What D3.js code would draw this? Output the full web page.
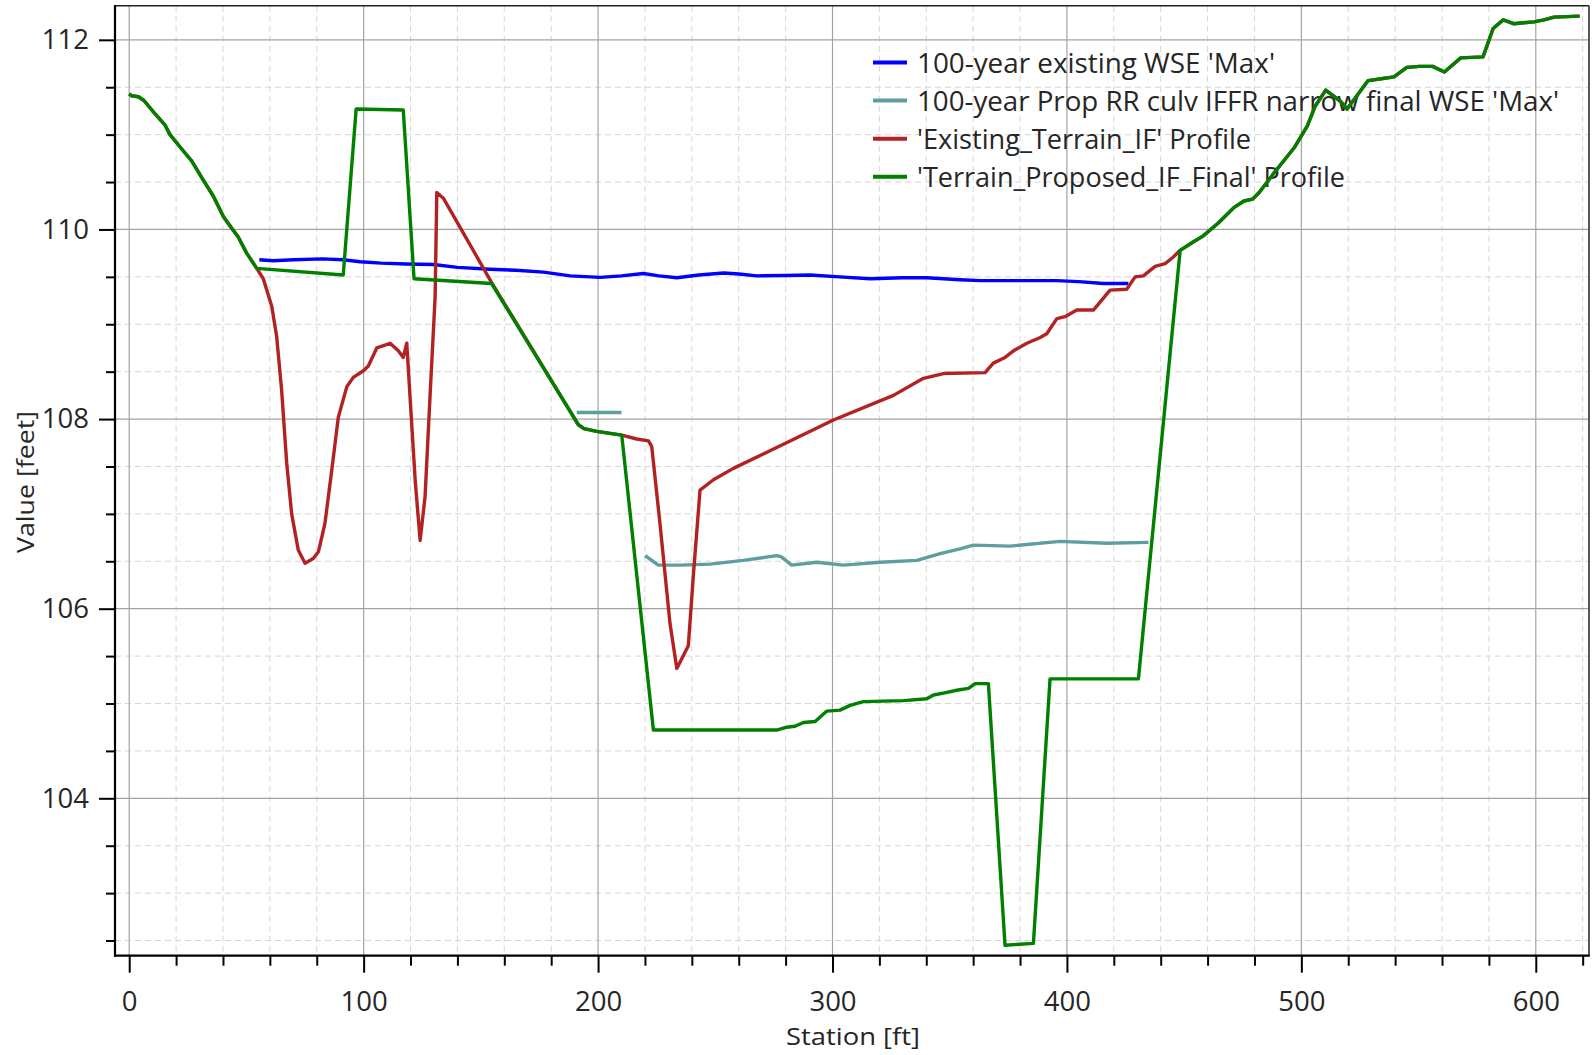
<!DOCTYPE html>
<html>
<head>
<meta charset="utf-8">
<script src="https://cdn.jsdelivr.net/npm/d3@7"></script>
<style>
  html, body { margin: 0; padding: 0; background: #ffffff; }
  svg { display: block; }
  text { font-family: "Open Sans", "Noto Sans", sans-serif; fill: #262626; }
</style>
</head>
<body>
<svg id="chart" width="1592" height="1055"></svg>
<script>
// ---------------- DATA ----------------
const seriesNames = [
  "100-year existing WSE 'Max'",
  "100-year Prop RR culv IFFR narrow final WSE 'Max'",
  "'Existing_Terrain_IF' Profile",
  "'Terrain_Proposed_IF_Final' Profile"
];
const seriesColors = ["#0000ff", "#5f9ea0", "#b22222", "#008000"];

const xMajorTicks = [0, 100, 200, 300, 400, 500, 600];
const xMinorTicks = [20, 40, 60, 80, 120, 140, 160, 180, 220, 240, 260, 280, 320, 340, 360, 380, 420, 440, 460, 480, 520, 540, 560, 580, 620];
const yMajorTicks = [104, 106, 108, 110, 112];
const yMinorTicks = [102.5, 103, 103.5, 104.5, 105, 105.5, 106.5, 107, 107.5, 108.5, 109, 109.5, 110.5, 111, 111.5];

// 100-year existing WSE 'Max'
const existWseStation = [55.5, 61.5, 70, 82.4, 91.3, 98.5, 107.5, 118, 129.8, 140, 153.9, 165, 176.7, 188.1, 200.9, 210, 219.3, 226, 233.6, 243, 253.5, 260, 267.7, 280, 290.4, 303, 316.1, 330, 340.2, 354.4, 363, 380, 395.7, 405, 415.6, 426.2];
const existWseValue   = [109.68, 109.67, 109.68, 109.69, 109.68, 109.66, 109.645, 109.635, 109.63, 109.6, 109.58, 109.57, 109.55, 109.51, 109.495, 109.51, 109.535, 109.51, 109.49, 109.52, 109.54, 109.53, 109.51, 109.515, 109.52, 109.5, 109.48, 109.49, 109.49, 109.47, 109.46, 109.46, 109.46, 109.45, 109.43, 109.43];

// 100-year Prop RR culv IFFR narrow final WSE 'Max' (null = gap)
const propWseStation = [190.9, 210, null, 220.1, 225.7, 235, 247.8, 262, 276.2, 278, 282.6, 293.3, 304.6, 320.3, 336, 345.9, 354.4, 360.1, 375.8, 397.1, 417, 434.8];
const propWseValue   = [108.07, 108.07, null, 106.56, 106.46, 106.46, 106.47, 106.51, 106.56, 106.55, 106.46, 106.49, 106.46, 106.49, 106.51, 106.58, 106.63, 106.67, 106.66, 106.71, 106.69, 106.70];

// 'Existing_Terrain_IF' Profile
const existTerrStation = [0, 1, 3.9, 6.3, 10.3, 15.3, 17.4, 21.7, 26.7, 31.6, 35.9, 40.1, 43.5, 46.5, 50.1, 54.4,
  57.2, 60.8, 62.9, 65, 67.2, 69.3, 72.1, 75, 78.5, 80.7, 83.5, 86.4, 89.2, 92.8, 95.6, 99.9, 102, 105.6, 109.1, 111.3, 114.8, 116.9, 118.4, 119.8, 122, 124.1, 126.2, 128.3, 130.5, 131.2, 134, 154.6,
  191.6, 194, 199.4, 210.1, 216.5, 221.5, 222.9, 226.4, 230.7, 233.6, 238.5, 240.7, 243.5, 249.2, 257.7, 300.4, 326, 338.8, 347.3, 365.1, 368.6, 373.6, 377.2, 382.9, 388.6, 391.4, 395.7, 399.2, 404.2, 411.3, 418.4, 425.5, 429.1, 432.6, 437.6, 441.9, 445.4, 448.3,
  454, 458, 464.7, 471.2, 475.5, 479.2, 482, 488.5, 497.2, 502.5, 505.9, 510.4, 516.7, 519.5, 528.5, 534.1, 539.5, 545, 550.5, 556, 561, 568, 577.5, 581.8, 586.1, 590.5, 599.2, 603.5, 607.8, 618.7];
const existTerrValue = [111.43, 111.41, 111.40, 111.36, 111.24, 111.10, 111.0, 110.87, 110.72, 110.52, 110.35, 110.14, 110.02, 109.92, 109.75, 109.59,
  109.48, 109.19, 108.87, 108.31, 107.53, 107.0, 106.62, 106.48, 106.53, 106.6, 106.9, 107.46, 108.02, 108.34, 108.44, 108.51, 108.56, 108.75, 108.78, 108.8, 108.72, 108.65, 108.8, 108.23, 107.35, 106.72, 107.18, 108.23, 109.29, 110.39, 110.33, 109.44,
  107.94, 107.9, 107.87, 107.83, 107.79, 107.77, 107.71, 106.9, 105.84, 105.37, 105.61, 106.37, 107.25, 107.36, 107.48, 107.99, 108.25, 108.43, 108.48, 108.49, 108.59, 108.65, 108.72, 108.8, 108.86, 108.9, 109.06, 109.08, 109.15, 109.15, 109.36, 109.37, 109.5, 109.51, 109.61, 109.64, 109.71, 109.78,
  109.87, 109.93, 110.07, 110.23, 110.3, 110.32, 110.39, 110.6, 110.87, 111.09, 111.3, 111.47, 111.35, 111.27, 111.57, 111.59, 111.61, 111.71, 111.72, 111.72, 111.66, 111.81, 111.82, 112.12, 112.21, 112.17, 112.19, 112.21, 112.24, 112.25];

// 'Terrain_Proposed_IF_Final' Profile
const propTerrStation = [0, 1, 3.9, 6.3, 10.3, 15.3, 17.4, 21.7, 26.7, 31.6, 35.9, 40.1, 43.5, 46.5, 50.1, 54.4,
  91.3, 96.8, 116.9, 121.5, 154.6, 191.6, 194, 199.4, 210.1, 223.6, 276.2, 280.5, 284, 287.6, 292.6, 297.6, 303.2, 307.5, 313.2, 330.3, 340.2, 343.1, 347.3, 353, 358, 360.8, 366.5, 373.6, 385.7, 392.8, 430.5, 448.3,
  454, 458, 464.7, 471.2, 475.5, 479.2, 482, 488.5, 497.2, 502.5, 505.9, 510.4, 516.7, 519.5, 528.5, 534.1, 539.5, 545, 550.5, 556, 561, 568, 577.5, 581.8, 586.1, 590.5, 599.2, 603.5, 607.8, 618.7];
const propTerrValue = [111.43, 111.41, 111.40, 111.36, 111.24, 111.10, 111.0, 110.87, 110.72, 110.52, 110.35, 110.14, 110.02, 109.92, 109.75, 109.59,
  109.52, 111.27, 111.26, 109.48, 109.43, 107.94, 107.9, 107.87, 107.83, 104.72, 104.72, 104.75, 104.76, 104.8, 104.81, 104.92, 104.93, 104.98, 105.02, 105.03, 105.05, 105.09, 105.11, 105.14, 105.16, 105.21, 105.21, 102.45, 102.47, 105.26, 105.26, 109.78,
  109.87, 109.93, 110.07, 110.23, 110.3, 110.32, 110.39, 110.6, 110.87, 111.09, 111.3, 111.47, 111.35, 111.27, 111.57, 111.59, 111.61, 111.71, 111.72, 111.72, 111.66, 111.81, 111.82, 112.12, 112.21, 112.17, 112.19, 112.21, 112.24, 112.25];

// ---------------- LAYOUT ----------------
const plotLeft = 115, plotRight = 1589, plotTop = 5.7, plotBottom = 955.7;
const svg = d3.select("#chart");

const x = d3.scaleLinear().domain([-6.06, 622.7]).range([plotLeft, plotRight]);
const y = d3.scaleLinear().domain([102.34, 112.36]).range([plotBottom, plotTop]);

svg.append("rect").attr("x", 0).attr("y", 0).attr("width", 1592).attr("height", 1055).attr("fill", "#fff");

// clip
svg.append("defs").append("clipPath").attr("id", "clip")
  .append("rect").attr("x", plotLeft).attr("y", plotTop)
  .attr("width", plotRight - plotLeft).attr("height", plotBottom - plotTop);

// minor gridlines
const grid = svg.append("g");
grid.selectAll(".vmin").data(xMinorTicks).join("line")
  .attr("x1", d => x(d)).attr("x2", d => x(d))
  .attr("y1", plotTop).attr("y2", plotBottom)
  .attr("stroke", "#d6d6d6").attr("stroke-width", 1).attr("stroke-dasharray", "6,4");
grid.selectAll(".hmin").data(yMinorTicks).join("line")
  .attr("x1", plotLeft).attr("x2", plotRight)
  .attr("y1", d => y(d)).attr("y2", d => y(d))
  .attr("stroke", "#d6d6d6").attr("stroke-width", 1).attr("stroke-dasharray", "6,4");
// major gridlines
grid.selectAll(".vmaj").data(xMajorTicks).join("line")
  .attr("x1", d => x(d)).attr("x2", d => x(d))
  .attr("y1", plotTop).attr("y2", plotBottom)
  .attr("stroke", "#a3a3a3").attr("stroke-width", 1.2);
grid.selectAll(".hmaj").data(yMajorTicks).join("line")
  .attr("x1", plotLeft).attr("x2", plotRight)
  .attr("y1", d => y(d)).attr("y2", d => y(d))
  .attr("stroke", "#a3a3a3").attr("stroke-width", 1.2);

// axes
function styleAxis(g) {
  g.select(".domain").remove();
  g.selectAll(".tick line").attr("stroke", "#000").attr("stroke-width", 2);
  g.selectAll(".tick text").attr("font-family", "'Open Sans', sans-serif")
    .attr("font-size", 27.5).attr("fill", "#333");
}
svg.append("g").attr("transform", `translate(0,${plotBottom})`)
  .call(d3.axisBottom(x).tickValues(xMinorTicks).tickSize(10).tickFormat(""))
  .call(styleAxis);
svg.append("g").attr("transform", `translate(0,${plotBottom})`)
  .call(d3.axisBottom(x).tickValues(xMajorTicks).tickSize(17).tickPadding(19).tickFormat(d3.format("d")))
  .call(styleAxis);
svg.append("g").attr("transform", `translate(${plotLeft},0)`)
  .call(d3.axisLeft(y).tickValues(yMinorTicks).tickSize(9).tickFormat(""))
  .call(styleAxis);
svg.append("g").attr("transform", `translate(${plotLeft},0)`)
  .call(d3.axisLeft(y).tickValues(yMajorTicks).tickSize(16).tickPadding(10).tickFormat(d3.format("d")))
  .call(styleAxis);

// frame
svg.append("line").attr("x1", plotLeft).attr("x2", plotRight).attr("y1", plotTop).attr("y2", plotTop)
  .attr("stroke", "#222").attr("stroke-width", 1.5);
svg.append("line").attr("x1", plotRight).attr("x2", plotRight).attr("y1", plotTop).attr("y2", plotBottom)
  .attr("stroke", "#222").attr("stroke-width", 1.5);
svg.append("line").attr("x1", plotLeft).attr("x2", plotLeft).attr("y1", plotTop - 0.75).attr("y2", plotBottom + 1)
  .attr("stroke", "#000").attr("stroke-width", 2.2);
svg.append("line").attr("x1", plotLeft - 1).attr("x2", plotRight + 0.75).attr("y1", plotBottom).attr("y2", plotBottom)
  .attr("stroke", "#000").attr("stroke-width", 2.2);

// axis titles
svg.append("text").attr("x", 853).attr("y", 1045).attr("text-anchor", "middle")
  .attr("font-size", 24).attr("fill", "#333")
  .attr("textLength", 134).attr("lengthAdjust", "spacingAndGlyphs")
  .text("Station [ft]");
svg.append("text").attr("transform", "translate(34,482) rotate(-90)").attr("text-anchor", "middle")
  .attr("font-size", 24).attr("fill", "#333")
  .attr("textLength", 142).attr("lengthAdjust", "spacingAndGlyphs")
  .text("Value [feet]");

// legend (drawn beneath the lines)
const legendWidths = [358, 642, 334, 428];
const legend = svg.append("g");
seriesNames.forEach((name, i) => {
  const ly = 62.5 + i * 38.1;
  legend.append("line").attr("x1", 873).attr("x2", 907).attr("y1", ly).attr("y2", ly)
    .attr("stroke", seriesColors[i]).attr("stroke-width", 4);
  legend.append("text").attr("x", 917).attr("y", ly + 10)
    .attr("font-size", 27).attr("fill", "#262626")
    .attr("textLength", legendWidths[i]).attr("lengthAdjust", "spacingAndGlyphs")
    .text(name);
});

// lines
const lineGen = d3.line()
  .defined(d => d[0] !== null && d[1] !== null)
  .x(d => x(d[0])).y(d => y(d[1]));
const seriesData = [
  d3.zip(existWseStation, existWseValue),
  d3.zip(propWseStation, propWseValue),
  d3.zip(existTerrStation, existTerrValue),
  d3.zip(propTerrStation, propTerrValue)
];
const linesG = svg.append("g").attr("clip-path", "url(#clip)");
seriesData.forEach((data, i) => {
  linesG.append("path").datum(data)
    .attr("d", lineGen)
    .attr("fill", "none")
    .attr("stroke", seriesColors[i])
    .attr("stroke-width", 3.4)
    .attr("stroke-linejoin", "round")
    .attr("stroke-linecap", "butt");
});
</script>
</body>
</html>
